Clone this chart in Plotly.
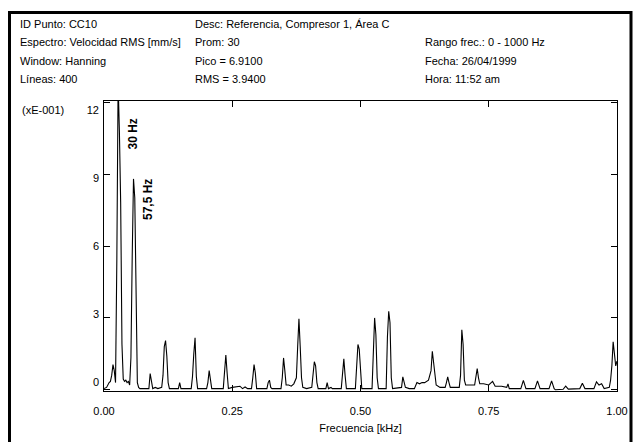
import plotly.graph_objects as go

# ---------------- data ----------------
freq_khz = [
    0.0000, 0.0050, 0.0100, 0.0125, 0.0150, 0.0175, 0.0200, 0.0225, 0.0250, 0.0275,
    0.0300, 0.0325, 0.0350, 0.0375, 0.0400, 0.0425, 0.0450, 0.0475, 0.0500, 0.0525,
    0.0550, 0.0575, 0.0600, 0.0625, 0.0650, 0.0675, 0.0700, 0.0800, 0.0875, 0.0900,
    0.0925, 0.0950, 0.1000, 0.1050, 0.1125, 0.1150, 0.1175, 0.1200, 0.1225, 0.1250,
    0.1275, 0.1450, 0.1475, 0.1500, 0.1700, 0.1725, 0.1750, 0.1775, 0.1800, 0.1825,
    0.2000, 0.2025, 0.2050, 0.2075, 0.2100, 0.2325, 0.2350, 0.2375, 0.2400, 0.2425,
    0.2500, 0.2650, 0.2700, 0.2750, 0.2800, 0.2875, 0.2900, 0.2925, 0.2950, 0.2975,
    0.3175, 0.3200, 0.3225, 0.3250, 0.3275, 0.3450, 0.3475, 0.3500, 0.3525, 0.3550,
    0.3600, 0.3650, 0.3700, 0.3750, 0.3775, 0.3800, 0.3825, 0.3850, 0.3875, 0.3950,
    0.4050, 0.4075, 0.4100, 0.4125, 0.4150, 0.4175, 0.4325, 0.4350, 0.4375, 0.4425,
    0.4450, 0.4625, 0.4650, 0.4675, 0.4700, 0.4725, 0.4900, 0.4925, 0.4950, 0.4975,
    0.5000, 0.5025, 0.5225, 0.5250, 0.5275, 0.5300, 0.5325, 0.5350, 0.5500, 0.5525,
    0.5550, 0.5575, 0.5600, 0.5625, 0.5800, 0.5825, 0.5850, 0.5875, 0.5950, 0.6050,
    0.6100, 0.6150, 0.6200, 0.6250, 0.6325, 0.6375, 0.6400, 0.6425, 0.6450, 0.6475,
    0.6550, 0.6650, 0.6675, 0.6700, 0.6725, 0.6750, 0.6925, 0.6950, 0.6975, 0.7000,
    0.7025, 0.7050, 0.7225, 0.7250, 0.7275, 0.7300, 0.7325, 0.7400, 0.7500, 0.7575,
    0.7625, 0.7750, 0.7850, 0.7875, 0.7900, 0.8125, 0.8175, 0.8225, 0.8400, 0.8450,
    0.8500, 0.8675, 0.8725, 0.8775, 0.8800, 0.8950, 0.9000, 0.9050, 0.9275, 0.9325,
    0.9375, 0.9550, 0.9600, 0.9650, 0.9700, 0.9750, 0.9850, 0.9875, 0.9900, 0.9925,
    0.9950, 0.9975, 1.0000,
]
velocidad_e1 = [
    0.05, 0.10, 0.30, 0.35, 0.60, 1.05, 0.80, 0.30, 5.40, 12.80,
    10.80, 7.80, 1.90, 0.45, 0.35, 0.40, 0.30, 0.35, 0.20, 1.35,
    5.60, 8.80, 8.00, 4.10, 0.30, 0.10, 0.05, 0.05, 0.05, 0.68,
    0.35, 0.05, 0.10, 0.05, 0.10, 0.60, 1.80, 2.05, 1.40, 0.30,
    0.05, 0.05, 0.30, 0.05, 0.05, 0.55, 1.50, 2.17, 0.55, 0.05,
    0.05, 0.30, 0.80, 0.35, 0.05, 0.05, 0.70, 1.45, 0.70, 0.05,
    0.10, 0.15, 0.05, 0.12, 0.05, 0.05, 0.50, 1.05, 0.70, 0.05,
    0.05, 0.30, 0.40, 0.10, 0.05, 0.05, 0.50, 1.33, 0.80, 0.20,
    0.20, 0.15, 0.25, 0.50, 1.80, 2.96, 1.80, 0.50, 0.10, 0.05,
    0.10, 0.60, 1.17, 1.00, 0.30, 0.05, 0.05, 0.30, 0.05, 0.10,
    0.05, 0.05, 0.60, 1.29, 0.60, 0.05, 0.05, 0.80, 1.89, 1.70,
    0.60, 0.05, 0.05, 2.10, 3.00, 2.30, 0.50, 0.05, 0.05, 2.20,
    3.28, 2.80, 0.50, 0.05, 0.10, 0.54, 0.35, 0.10, 0.05, 0.05,
    0.30, 0.25, 0.30, 0.30, 0.40, 0.80, 1.61, 1.10, 0.60, 0.20,
    0.10, 0.10, 0.30, 0.54, 0.30, 0.10, 0.10, 0.60, 2.50, 1.90,
    0.40, 0.20, 0.20, 0.60, 0.89, 0.50, 0.25, 0.25, 0.20, 0.35,
    0.15, 0.15, 0.10, 0.25, 0.05, 0.05, 0.39, 0.05, 0.05, 0.37,
    0.05, 0.05, 0.37, 0.05, 0.00, 0.02, 0.15, 0.03, 0.05, 0.27,
    0.05, 0.05, 0.33, 0.20, 0.25, 0.05, 0.10, 0.40, 1.00, 2.00,
    1.40, 1.00, 1.20,
]

x_tick_vals = [0.0, 0.25, 0.5, 0.75, 1.0]
x_tick_text = ["0.00", "0.25", "0.50", "0.75", "1.00"]
y_tick_vals = [0, 3, 6, 9, 12]
y_tick_text = ["0", "3", "6", "9", "12"]

header_col1 = ["ID Punto: CC10", "Espectro: Velocidad RMS [mm/s]", "Window: Hanning", "Líneas: 400"]
header_col2 = ["Desc: Referencia, Compresor 1, Área C", "Prom: 30", "Pico = 6.9100", "RMS = 3.9400"]
header_col3 = ["", "Rango frec.: 0 - 1000 Hz", "Fecha: 26/04/1999", "Hora: 11:52 am"]

peak_labels = ["30 Hz", "57,5 Hz"]

# ---------------- layout geometry (pixels) ----------------
W, H = 633, 442
PL, PR, PT, PB = 104, 617, 101, 391
FONT = "Liberation Sans"
FS = 11


def px(x):
    return (x - PL) / (PR - PL)


def py(y):
    return (PB - y) / (PB - PT)


fig = go.Figure()
fig.add_trace(go.Scatter(
    x=freq_khz, y=velocidad_e1, mode="lines",
    line=dict(color="black", width=1.1), hoverinfo="skip", showlegend=False,
))
# invisible trace tied to the label axis so it is drawn
fig.add_trace(go.Scatter(x=[None], y=[None], yaxis="y2", showlegend=False, hoverinfo="skip"))

axis_common = dict(
    showline=True, linecolor="black", linewidth=1, mirror="ticks",
    ticks="inside", ticklen=6, tickcolor="black", tickwidth=1,
    showgrid=False, zeroline=False, automargin=False,
    tickfont=dict(family=FONT, size=FS, color="black"),
)

fig.update_layout(
    width=W, height=H,
    margin=dict(l=PL, r=W - PR, t=PT, b=H - PB, autoexpand=False),
    paper_bgcolor="white", plot_bgcolor="white",
    xaxis=dict(range=[0, 1], tickvals=x_tick_vals, ticktext=x_tick_text,
               ticklabelstandoff=10,
               title=dict(text="Frecuencia [kHz]", standoff=8,
                          font=dict(family=FONT, size=FS, color="black")),
               **axis_common),
    yaxis=dict(range=[-0.05, 12.05], tickvals=y_tick_vals, showticklabels=False,
               **axis_common),
    # label-only axis: the original program spaces its value labels a little tighter than its ticks
    yaxis2=dict(overlaying="y", side="left", range=[-0.40, 12.40],
                tickvals=y_tick_vals, ticktext=y_tick_text, ticks="", showline=False,
                showgrid=False, zeroline=False, automargin=False, ticklabelstandoff=4,
                tickfont=dict(family=FONT, size=FS, color="black")),
    font=dict(family=FONT, size=FS, color="black"),
)

ann = []
line_y = [24, 42, 61, 79]
for col_x, col in ((18, header_col1), (193, header_col2), (423, header_col3)):
    for yy, t in zip(line_y, col):
        if t:
            ann.append(dict(text=t, x=px(col_x), y=py(yy), xref="paper", yref="paper",
                            xanchor="left", yanchor="middle", showarrow=False,
                            font=dict(family=FONT, size=FS, color="black")))
ann.append(dict(text="(xE-001)", x=px(20), y=py(110), xref="paper", yref="paper",
                xanchor="left", yanchor="middle", showarrow=False,
                font=dict(family=FONT, size=FS, color="black")))
# peak labels (rotated, bold)
for (lx, ly), t in zip(((132.5, 134), (148, 200)), peak_labels):
    ann.append(dict(text="<b>%s</b>" % t, x=px(lx), y=py(ly), xref="paper", yref="paper",
                    xanchor="center", yanchor="middle", showarrow=False, textangle=-90,
                    font=dict(family=FONT, size=12, color="black")))
fig.update_layout(annotations=ann)

# outer thick frame (left, top, right edges; bottom runs off the picture)
fig.add_shape(type="rect", xref="paper", yref="paper",
              x0=px(9.5), x1=px(631), y0=py(460), y1=py(12.5),
              line=dict(color="black", width=3), fillcolor="rgba(0,0,0,0)", layer="above")

fig.write_html("out.html",
               config={"displayModeBar": False},
               post_script="document.body.style.margin='0';document.body.style.padding='0';")
